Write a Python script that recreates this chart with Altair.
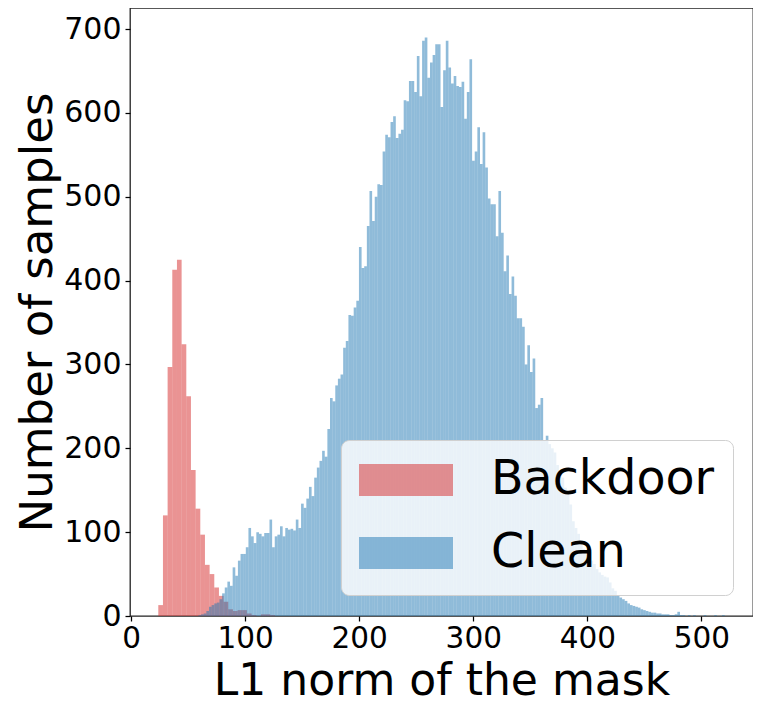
import altair as alt
import pandas as pd

series_names = ["Backdoor", "Clean"]
series_colors = ["#d62728", "#1f77b4"]

backdoor_start = 23.9
backdoor_width = 4.09
backdoor_counts = [13, 120, 297, 413, 425, 324, 262, 174, 128, 97, 61, 50, 34, 24,
                   17, 8, 6, 7, 7, 3, 1, 0, 2, 2, 1]

clean_start = 59.1
clean_width = 2.3065
clean_counts = [
    1, 2, 3, 6, 11, 13, 15, 16, 20, 27,
    34, 41, 36, 58, 48, 66, 74, 74, 82, 105,
    95, 87, 100, 98, 95, 99, 99, 115, 82, 95,
    97, 107, 95, 105, 103, 104, 102, 115, 105, 134,
    129, 140, 154, 143, 165, 177, 185, 197, 190, 223,
    260, 256, 275, 283, 288, 320, 328, 359, 358, 368,
    376, 440, 415, 417, 465, 507, 471, 500, 515, 514,
    554, 574, 571, 589, 596, 570, 575, 580, 615, 614,
    638, 638, 625, 668, 620, 686, 690, 642, 660, 669,
    682, 682, 607, 651, 686, 654, 635, 644, 632, 631,
    637, 593, 625, 664, 543, 554, 583, 539, 577, 535,
    498, 491, 491, 453, 507, 457, 411, 430, 384, 405,
    382, 355, 355, 345, 300, 323, 291, 307, 248, 252,
    260, 209, 215, 205, 200, 195, 180, 172, 165, 153,
    145, 133, 113, 105, 98, 88, 80, 74, 70, 66,
    62, 56, 52, 49, 47, 46, 40, 33, 30, 25,
    22, 20, 18, 15, 13, 12, 11, 10, 8, 7,
    6, 5, 4, 4, 3, 3, 2, 2, 2, 1,
    1, 2, 5, 1, 1, 0, 1, 0, 1, 0,
    0, 0, 1, 0, 0, 0, 1, 0, 0, 1,
]

x_ticks = [0, 100, 200, 300, 400, 500]
y_ticks = [0, 100, 200, 300, 400, 500, 600, 700]
x_domain = [-0.9, 545.2]
y_domain = [0, 725.1]

rows = []
for name, start, width, counts in [
    (series_names[0], backdoor_start, backdoor_width, backdoor_counts),
    (series_names[1], clean_start, clean_width, clean_counts),
]:
    for i, c in enumerate(counts):
        if c <= 0:
            continue
        rows.append({"series": name, "lo": start + i * width,
                     "hi": start + (i + 1) * width, "count": c, "base": 0})
df = pd.DataFrame(rows)

FONT = "DejaVu Sans"

chart = alt.Chart(df).mark_bar(opacity=0.5).encode(
    x=alt.X("lo:Q",
            scale=alt.Scale(domain=x_domain, nice=False, zero=False),
            axis=alt.Axis(values=x_ticks, title="L1 norm of the mask",
                          labelFontSize=29.5, titleFontSize=44,
                          tickSize=5, tickWidth=1.25, tickColor="black",
                          labelPadding=3, labelColor="black",
                          titleBaseline="alphabetic", titleY=78,
                          titleColor="black", titleFontWeight="normal",
                          domain=False, grid=False, labelFlush=False,
                          labelOverlap=False)),
    x2="hi:Q",
    y=alt.Y("count:Q",
            scale=alt.Scale(domain=y_domain, nice=False, zero=True),
            axis=alt.Axis(values=y_ticks, title="Number of samples",
                          labelFontSize=30, titleFontSize=45,
                          tickSize=5, tickWidth=1.25, tickColor="black",
                          labelPadding=4, titlePadding=3, labelColor="black",
                          titleColor="black", titleFontWeight="normal",
                          domain=False, grid=False, labelFlush=False,
                          labelOverlap=False)),
    y2="base:Q",
    color=alt.Color("series:N",
                    scale=alt.Scale(domain=series_names, range=series_colors),
                    legend=alt.Legend(title=None, orient="none",
                                      legendX=211, legendY=432,
                                      symbolType="M-1,-0.34H1V0.34H-1Z",
                                      symbolSize=8836, symbolOpacity=0.5,
                                      symbolStrokeWidth=0,
                                      labelFont=FONT, labelFontSize=47.5,
                                      labelColor="black", labelOffset=38,
                                      labelLimit=500, clipHeight=44,
                                      rowPadding=25, padding=18,
                                      fillColor="rgba(255,255,255,0.8)",
                                      strokeColor="#d0d0d0",
                                      cornerRadius=8)),
).properties(
    width=623, height=608,
    autosize=alt.AutoSizeParams(type="none"),
    padding={"left": 122, "top": 0, "right": 0, "bottom": 90},
).configure(
    font=FONT,
).configure_view(
    stroke="#222222", strokeWidth=1.3,
)

chart.save("out.html", embed_options={"renderer": "svg", "actions": False})
